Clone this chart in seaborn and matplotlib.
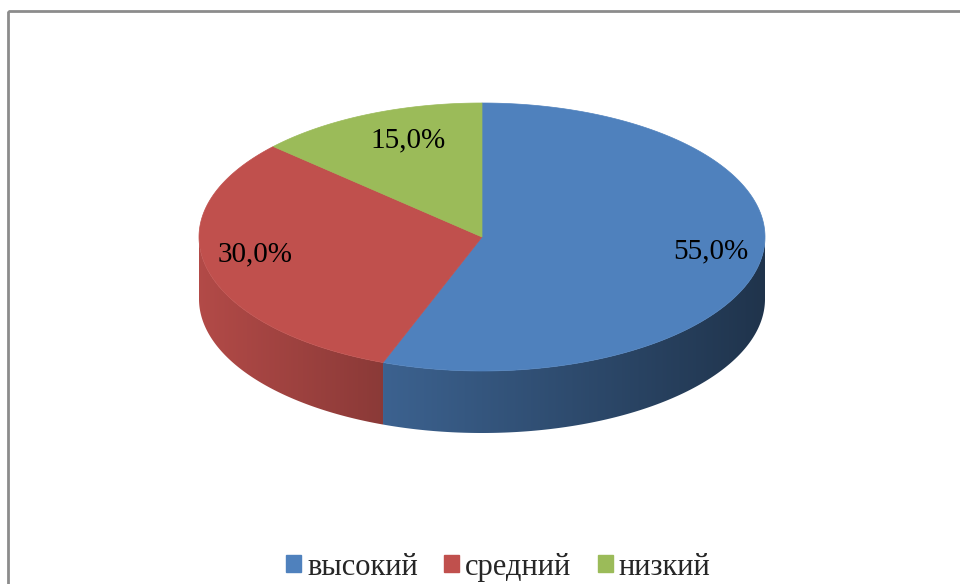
import numpy as np
import matplotlib
matplotlib.use("Agg")
import matplotlib.pyplot as plt
from matplotlib.patches import Polygon, Rectangle, Patch
import seaborn as sns

# data
categories = ["высокий", "средний", "низкий"]
shares = [55.0, 30.0, 15.0]
labels = ["55,0%", "30,0%", "15,0%"]

sns.set_theme(style="white")
plt.rcParams["font.family"] = ["Liberation Serif", "DejaVu Serif"]

colors = ["#4F81BD", "#C0504D", "#9BBB59"]
# side shading (left -> right) per slice
shade = [(0.76, 0.40), (0.93, 0.72), (0.8, 0.6)]
# small label nudges in pixels
label_nudge = [(2, 12), (-4, -2), (16, 2)]

# pie geometry in pixel space
cx, cy, rx, ry, depth = 482, 237, 283, 134, 62
persp = 8.0  # angle warp imitating perspective (degrees)

fig = plt.figure(figsize=(9.6, 5.84), dpi=100)
ax = fig.add_axes([0, 0, 1, 1])


def warp(t):
    t = np.asarray(t, dtype=float)
    return t + persp * np.cos(np.radians(t))


def ell(t, dy=0.0):
    # t: display angle in degrees
    t = np.radians(t)
    return np.column_stack([cx + rx * np.cos(t), cy - ry * np.sin(t) + dy])


# slice angles (start at 12 o'clock, clockwise), then perspective warp
total = sum(shares)
starts, ends = [], []
a = 90.0
for s in shares:
    starts.append(a)
    a -= 360.0 * s / total
    ends.append(a)
wstarts = [float(warp(v)) for v in starts]
wends = [float(warp(v)) for v in ends]

# side walls (only the front half is visible)
for i in range(len(shares)):
    hi, lo = wstarts[i], wends[i]
    for k in (0, -360):
        a1 = min(hi + k, 0.0)
        a0 = max(lo + k, -180.0)
        if a1 <= a0:
            continue
        t = np.linspace(a0, a1, 200)
        top = ell(t)
        bot = ell(t[::-1], depth)
        poly = Polygon(np.vstack([top, bot]), closed=True,
                       facecolor="none", edgecolor="none")
        ax.add_patch(poly)
        x0, x1 = top[:, 0].min(), top[:, 0].max()
        base = np.array(matplotlib.colors.to_rgb(colors[i]))
        f = np.linspace(shade[i][0], shade[i][1], 256)
        grad = np.clip(base[None, None, :] * f[None, :, None], 0, 1)
        im = ax.imshow(grad, extent=(x0 - 1, x1 + 1, bot[:, 1].max() + 1,
                                     top[:, 1].min() - 1),
                       aspect="auto", interpolation="bilinear", zorder=1)
        im.set_clip_path(poly)

# top face
for i in range(len(shares)):
    t = np.linspace(wstarts[i], wends[i], 200)
    pts = np.vstack([[cx, cy], ell(t)])
    ax.add_patch(Polygon(pts, closed=True, facecolor=colors[i],
                         edgecolor=colors[i], lw=0.5, zorder=2))

# data labels
for i in range(len(shares)):
    mid = np.radians(warp((starts[i] + ends[i]) / 2))
    lx = cx + 0.8 * rx * np.cos(mid) + label_nudge[i][0]
    ly = cy - 0.8 * ry * np.sin(mid) + label_nudge[i][1]
    ax.text(lx, ly, labels[i], ha="center", va="center",
            fontsize=21, color="black", zorder=3)

# chart border (partially cropped)
ax.add_patch(Rectangle((8, 11), 1200, 1200, fill=False,
                       edgecolor="#8c8c8c", lw=2, zorder=4))

ax.set_xlim(0, 960)
ax.set_ylim(584, 0)
ax.axis("off")

handles = [Patch(facecolor=c, edgecolor=c) for c in colors]
fig.legend(handles, categories, loc="center", bbox_to_anchor=(0.519, 0.029),
           ncol=3, frameon=False, fontsize=22, handlelength=0.5,
           handleheight=0.5, handletextpad=0.2, columnspacing=0.85)

fig.savefig("out.png", dpi=100)
